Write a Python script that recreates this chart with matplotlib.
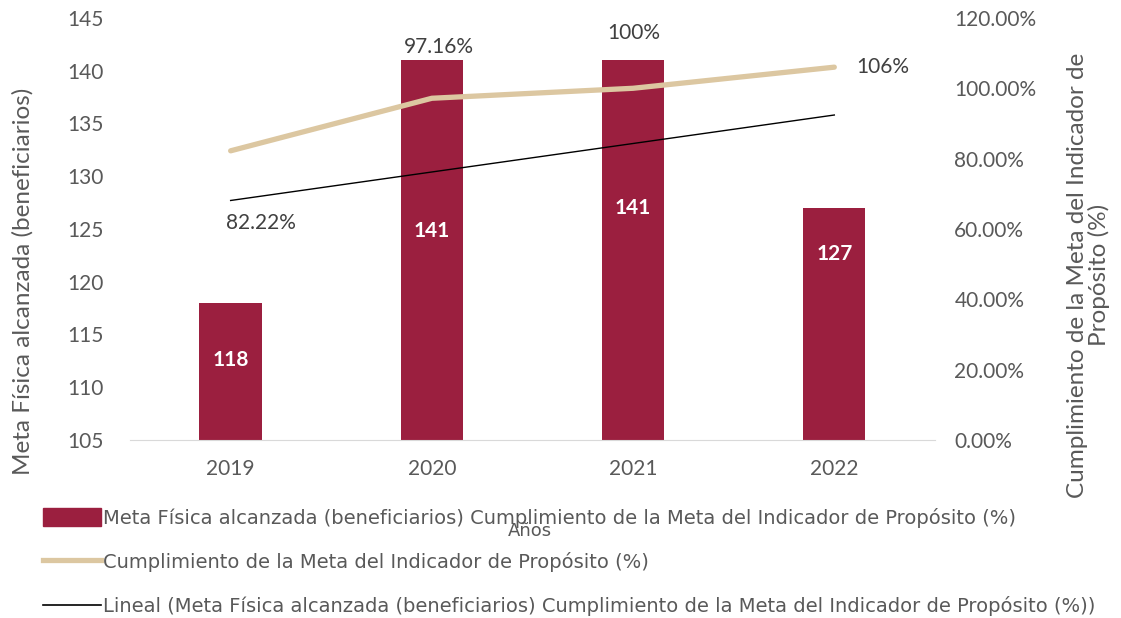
import numpy as np
import matplotlib
matplotlib.use("Agg")
import matplotlib.pyplot as plt
from matplotlib.patches import Patch
from matplotlib.lines import Line2D
from matplotlib.ticker import FuncFormatter

# Data
years = ['2019', '2020', '2021', '2022']
meta_fisica = [118, 141, 141, 127]          # beneficiarios
cumplimiento = [82.22, 97.16, 100.0, 106.0]  # %
cumplimiento_labels = ['82.22%', '97.16%', '100%', '106%']

bar_color = '#9B1F3F'
line_color = '#DCC7A1'
text_gray = '#595959'

plt.rcParams['font.family'] = ['Lato', 'DejaVu Sans']

fig = plt.figure(figsize=(11.21, 6.18), dpi=100)
ax = fig.add_axes([0.116, 0.288, 0.718, 0.683])
ax2 = ax.twinx()

x = np.arange(len(years))

# Bars (left axis)
ax.bar(x, meta_fisica, width=0.31, color=bar_color, zorder=2)
ax.set_ylim(105, 145)
ax.set_xlim(-0.5, 3.5)
ax.set_yticks(range(105, 146, 5))
ax.set_xticks(x)
ax.set_xticklabels(years)

# Linear trend of the bars
coef = np.polyfit(x, meta_fisica, 1)
ax.plot(x, np.polyval(coef, x), color='black', lw=1.0, zorder=3)

# bar value labels (inside, white bold)
bar_label_pos = [0.58, 0.55, 0.61, 0.80]  # fraction of bar height above axis floor
for xi, v, f in zip(x, meta_fisica, bar_label_pos):
    ax.text(xi, 105 + (v - 105) * f, str(v), ha='center', va='center',
            color='white', fontsize=15, fontweight='bold', zorder=4)

# Line (right axis)
ax2.plot(x, cumplimiento, color=line_color, lw=3.8, solid_capstyle='round', zorder=3)
ax2.set_ylim(0, 120)
ax2.set_yticks(range(0, 121, 20))
ax2.yaxis.set_major_formatter(FuncFormatter(lambda v, p: f'{v:.2f}%'))

label_offsets = [(22, -52), (5, 37), (0.7, 39.6), (35, 0)]
for xi, v, lab, off in zip(x, cumplimiento, cumplimiento_labels, label_offsets):
    ax2.annotate(lab, (xi, v), xytext=off, textcoords='offset points',
                 ha='center', va='center', fontsize=15, color='#404040')

for a in (ax, ax2):
    for s in a.spines.values():
        s.set_visible(False)
    a.tick_params(length=0, labelsize=15, colors=text_gray)
ax.spines['bottom'].set_visible(True)
ax.spines['bottom'].set_color('#D9D9D9')
ax.tick_params(axis='y', pad=19)
ax.tick_params(axis='x', pad=14)
ax2.tick_params(axis='y', pad=14)

fig.text(0.020, 0.545, 'Meta Física alcanzada (beneficiarios)', fontsize=17.5, color=text_gray,
         rotation=90, ha='center', va='center')
fig.text(0.971, 0.555, 'Cumplimiento de la Meta del Indicador de\nPropósito (%)', fontsize=17.5,
         color=text_gray, rotation=90, ha='center', va='center', linespacing=1.0,
         multialignment='center')

fig.text(0.473, 0.14, 'Años', fontsize=13, color=text_gray, ha='center', va='center',
         family=['DejaVu Sans'])

handles = [
    Patch(facecolor=bar_color, edgecolor=bar_color),
    Line2D([0], [0], color=line_color, lw=3.8),
    Line2D([0], [0], color='black', lw=1.2),
]
labels = [
    'Meta Física alcanzada (beneficiarios) Cumplimiento de la Meta del Indicador de Propósito (%)',
    'Cumplimiento de la Meta del Indicador de Propósito (%)',
    'Lineal (Meta Física alcanzada (beneficiarios) Cumplimiento de la Meta del Indicador de Propósito (%))',
]
fig.legend(handles, labels, loc='upper left', bbox_to_anchor=(0.031, 0.191), frameon=False,
           handlelength=3.0, handleheight=1.0, handletextpad=0.1, labelspacing=1.25,
           prop={'family': ['DejaVu Sans'], 'size': 14},
           labelcolor=text_gray, borderaxespad=0)

fig.savefig('out.png', dpi=100)
